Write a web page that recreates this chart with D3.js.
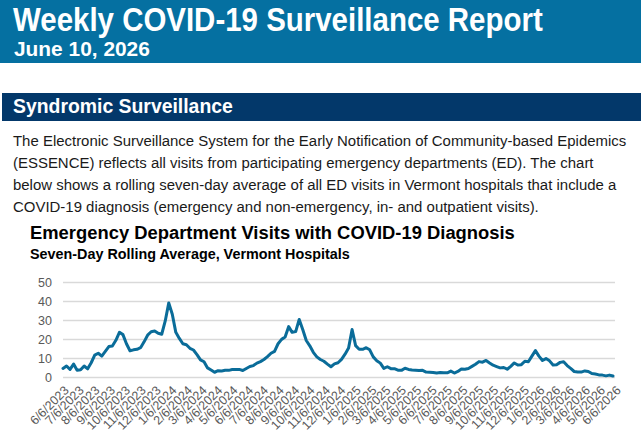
<!DOCTYPE html>
<html>
<head>
<meta charset="utf-8">
<script src="https://cdn.jsdelivr.net/npm/d3@7"></script>
<style>
  html, body { margin: 0; padding: 0; background: #fff; }
  svg { display: block; }
</style>
</head>
<body>
<svg id="chart" width="641" height="434"></svg>
<script>
// ---------------- DATA ----------------
const reportTitle = "Weekly COVID-19 Surveillance Report";
const reportDate = "June 10, 2026";
const sectionTitle = "Syndromic Surveillance";
const paragraphLines = [
  "The Electronic Surveillance System for the Early Notification of Community-based Epidemics",
  "(ESSENCE) reflects all visits from participating emergency departments (ED). The chart",
  "below shows a rolling seven-day average of all ED visits in Vermont hospitals that include a",
  "COVID-19 diagnosis (emergency and non-emergency, in- and outpatient visits)."
];
const chartTitle = "Emergency Department Visits with COVID-19 Diagnosis";
const chartSubtitle = "Seven-Day Rolling Average, Vermont Hospitals";

// weekly readings of the seven-day rolling average, starting 6/6/2023
const seriesStart = "2023-06-06";
const stepDays = 7;
const visits = [
  4.5, 5.8, 4.0, 6.8, 3.5, 3.8, 5.8, 4.3, 7.5, 11.5,
  12.5, 11.0, 13.5, 16.0, 16.3, 19.3, 23.5, 22.3, 17.5, 13.8,
  14.3, 14.6, 15.4, 18.5, 22.0, 23.8, 24.2, 23.0, 22.5, 29.5,
  39.0, 33.0, 23.5, 20.3, 17.5, 17.0, 15.1, 14.2, 11.8, 9.0,
  8.0, 4.8, 3.7, 2.5, 3.3, 3.2, 3.5, 3.5, 3.9, 4.0,
  4.0, 3.4, 4.5, 5.5, 6.0, 7.3, 8.1, 9.2, 10.7, 12.5,
  13.5, 17.5, 19.8, 21.0, 26.5, 23.5, 23.9, 30.3, 25.0, 19.2,
  16.4, 13.0, 10.6, 9.2, 8.3, 6.8, 5.4, 6.9, 7.5, 9.3,
  12.0, 15.2, 25.0, 16.5, 14.6, 14.6, 15.4, 14.3, 10.6, 8.6,
  7.3, 4.5, 5.4, 4.4, 4.4, 3.6, 3.5, 4.6, 4.0, 3.7,
  3.6, 3.4, 3.5, 2.6, 2.5, 2.4, 2.1, 2.4, 2.2, 2.2,
  3.1, 2.1, 2.9, 4.2, 4.1, 4.5, 5.6, 6.7, 8.1, 7.8,
  8.7, 7.4, 6.2, 5.5, 4.8, 5.0, 4.1, 5.6, 7.4, 6.3,
  6.5, 8.3, 8.0, 11.0, 13.9, 11.0, 8.7, 9.7, 8.5, 6.3,
  6.5, 7.7, 8.0, 6.0, 4.5, 2.9, 2.6, 2.6, 3.2, 2.9,
  1.8, 1.6, 1.1, 1.0, 0.6, 1.0, 0.5
];

const yTicks = [0, 10, 20, 30, 40, 50];
const xTickLabels = [
  "6/6/2023","7/6/2023","8/6/2023","9/6/2023","10/6/2023","11/6/2023","12/6/2023",
  "1/6/2024","2/6/2024","3/6/2024","4/6/2024","5/6/2024","6/6/2024","7/6/2024",
  "8/6/2024","9/6/2024","10/6/2024","11/6/2024","12/6/2024",
  "1/6/2025","2/6/2025","3/6/2025","4/6/2025","5/6/2025","6/6/2025","7/6/2025",
  "8/6/2025","9/6/2025","10/6/2025","11/6/2025","12/6/2025",
  "1/6/2026","2/6/2026","3/6/2026","4/6/2026","5/6/2026","6/6/2026"
];

// ---------------- DRAW ----------------
const svg = d3.select("#chart");
const W = 641;
const sans = "'Liberation Sans', Arial, sans-serif";

// squeeze a text horizontally (emulates the condensed face of the report)
function squeeze(sel, x0, k) {
  sel.attr("transform", `translate(${x0},0) scale(${k},1) translate(${-x0},0)`);
  return sel;
}
function addText(g, x0, y0, str, size, weight, fill, width) {
  const t = g.append("text").attr("x", x0).attr("y", y0)
    .attr("font-family", sans).attr("font-weight", weight).attr("font-size", size)
    .attr("fill", fill).text(str);
  return squeeze(t, x0, width / t.node().getComputedTextLength());
}

// header band
svg.append("rect").attr("x", 0).attr("y", 0).attr("width", W).attr("height", 63).attr("fill", "#0570A1");
addText(svg, 13, 31, reportTitle, 33, "bold", "#fff", 530);
addText(svg, 14, 56, reportDate, 20, "bold", "#fff", 136);

// section bar
svg.append("rect").attr("x", 2).attr("y", 93).attr("width", W - 2).attr("height", 28).attr("fill", "#03386A");
addText(svg, 13, 113, sectionTitle, 20, "bold", "#fff", 220);

// paragraph: one common squeeze factor taken from the first (full) line
const para = svg.append("g");
const paraText = para.selectAll("text").data(paragraphLines).join("text")
  .attr("x", 13).attr("y", (d, i) => 146 + i * 22)
  .attr("font-family", sans).attr("font-size", 15.5).attr("fill", "#1a1a1a")
  .text(d => d);
const paraK = 614 / paraText.nodes()[0].getComputedTextLength();
paraText.each(function () { squeeze(d3.select(this), 13, paraK); });

// chart titles
addText(svg, 30, 239, chartTitle, 18.5, "bold", "#000", 485);
addText(svg, 30, 259, chartSubtitle, 14.5, "bold", "#000", 320);

// scales
const parseISO = d3.utcParse("%Y-%m-%d");
const parseMDY = d3.utcParse("%m/%d/%Y");
const start = parseISO(seriesStart);
const data = visits.map((v, i) => ({ date: d3.utcDay.offset(start, i * stepDays), value: v }));

const x = d3.scaleUtc()
  .domain([parseMDY(xTickLabels[0]), parseMDY(xTickLabels[xTickLabels.length - 1])])
  .range([63, 615]);
const y = d3.scaleLinear().domain([0, 50]).range([377, 282]);

// y axis with gridlines
const yAxis = svg.append("g").attr("transform", "translate(63,0)")
  .call(d3.axisLeft(y).tickValues(yTicks).tickSize(-(615 - 63)).tickPadding(11));
yAxis.select(".domain").remove();
yAxis.selectAll(".tick line").attr("stroke", "#D9D9D9").attr("stroke-width", 1.5);
yAxis.selectAll(".tick text")
  .attr("font-family", sans).attr("font-size", 12.5)
  .attr("fill", "#595959");

// x axis
const xAxis = svg.append("g").attr("transform", "translate(0,377)")
  .call(d3.axisBottom(x).tickValues(xTickLabels.map(parseMDY)).tickFormat((d, i) => xTickLabels[i]).tickSize(0));
xAxis.select(".domain").remove();
xAxis.selectAll(".tick text")
  .attr("font-family", sans).attr("font-size", 12.5)
  .attr("fill", "#595959")
  .attr("text-anchor", "end")
  .attr("x", 0).attr("y", 0).attr("dy", "0.35em")
  .attr("transform", "translate(3,11) rotate(-45)");

// line
const line = d3.line().x(d => x(d.date)).y(d => y(d.value)).curve(d3.curveLinear);
svg.append("path").datum(data)
  .attr("d", line)
  .attr("fill", "none").attr("stroke", "#0A6C99").attr("stroke-width", 3)
  .attr("stroke-linejoin", "round").attr("stroke-linecap", "round");
</script>
</body>
</html>
